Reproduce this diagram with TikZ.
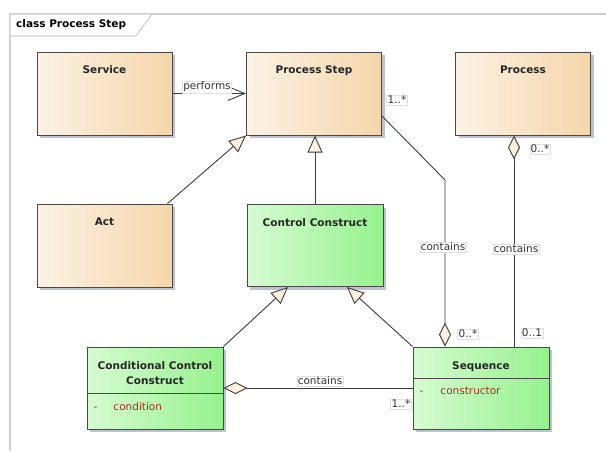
\documentclass[tikz,border=0pt]{standalone}
\usepackage{fontspec}
\setmainfont{DejaVu Sans}
\usetikzlibrary{arrows.meta,calc,positioning,shadows}
\definecolor{bordc}{RGB}{72,72,72}
\definecolor{linec}{RGB}{60,60,60}
\definecolor{frmc}{RGB}{208,208,208}
\definecolor{shadc}{RGB}{188,193,212}
\definecolor{orl}{RGB}{252,242,229}
\definecolor{orr}{RGB}{245,214,170}
\definecolor{grl}{RGB}{214,251,210}
\definecolor{grr}{RGB}{150,242,142}
\definecolor{creamc}{RGB}{252,240,222}
\definecolor{attrc}{RGB}{160,52,36}

\begin{document}
\begin{tikzpicture}[x=1pt,y=-1pt]
\tikzstyle{cls} = [rectangle, draw=bordc, line width=1pt, minimum width=135pt, minimum height=83pt, inner sep=0pt, drop shadow={shadow xshift=3pt, shadow yshift=-3pt, fill=shadc, opacity=1}]
\tikzstyle{orng} = [cls, left color=orl, right color=orr]
\tikzstyle{grn} = [cls, left color=grl, right color=grr, minimum width=136pt, minimum height=82pt]
\tikzstyle{ttl} = [anchor=base, inner sep=0pt, text=black!85, font=\bfseries\fontsize{10.5}{15}\selectfont]
\tikzstyle{attr} = [anchor=base west, inner sep=0pt, text=attrc, font=\fontsize{10.5}{13}\selectfont]
\tikzstyle{lbl} = [fill=white, draw=black!12, inner sep=1pt, text=black!80, font=\fontsize{10.5}{13}\selectfont]
\tikzstyle{sep} = [draw=bordc, line width=1pt]
\tikzstyle{edge} = [draw=linec, line width=0.9pt]
\tikzstyle{gen} = [edge, -{Triangle[fill=creamc, length=17pt, width=15pt]}]
\tikzstyle{aggs} = [edge, {Diamond[fill=creamc, length=24pt, width=12pt]}-]
\tikzstyle{agge} = [edge, -{Diamond[fill=creamc, length=24pt, width=12pt]}]
\tikzstyle{frm} = [draw=frmc, line width=1.2pt]
\useasboundingbox (0,0) rectangle (606,451);
% -----------------------------------
% Frame
\draw[frm] (10,451) -- (10,14) -- (606,14);
\draw[frm, fill=white] (10,14) -- (152,14) -- (136,36) -- (10,36) -- cycle;
\node[anchor=west, inner sep=0pt, font=\bfseries\fontsize{10.5}{13}\selectfont] (frmt) at (16,25) {class Process Step};

% -----------------------------------
% Upper classes
\node[orng] (svc) at (104.5,93.5) {};
\node[ttl] (svct) at ($(svc.north)+(0,22)$) {Service};
\node[orng] (step) at (314,93.5) {};
\node[ttl] (stept) at ($(step.north)+(0,22)$) {Process Step};
\node[orng] (proc) at (523,93.5) {};
\node[ttl] (proct) at ($(proc.north)+(0,22)$) {Process};
\node[orng] (act) at (104.5,245.5) {};
\node[ttl] (actt) at ($(act.north)+(0,22)$) {Act};
\node[grn] (cc) at (315,245.5) {};
\node[ttl] (cct) at ($(cc.north)+(0,22)$) {Control Construct};

% -----------------------------------
% Lower classes
\node[grn] (ccc) at (155,388) {};
\node[ttl, anchor=center, align=center] (ccct) at ($(ccc.north)+(0,26.5)$) {Conditional Control\\Construct};
\draw[sep] ($(ccc.north west)+(0,47)$) -- ($(ccc.north east)+(0,47)$);
\node[attr] (ccca) at ($(ccc.north west)+(7,64)$) {-\hspace{16pt}condition};
\node[grn] (seq) at (481,388) {};
\node[ttl] (seqt) at ($(seq.north)+(0,23)$) {Sequence};
\draw[sep] ($(seq.north west)+(0,32)$) -- ($(seq.north east)+(0,32)$);
\node[attr] (seqa) at ($(seq.north west)+(7,48)$) {-\hspace{17pt}constructor};

% -----------------------------------
% Connectors
\draw[edge, -{Straight Barb[length=17pt, width=14pt]}] (svc) -- (step);
\draw[gen] ($(act.north east)+(-5,0)$) -- (step.south west);
\draw[gen] (cc.north) -- (cc.north |- step.south);
\draw[gen] (ccc.north east) -- ($(cc.south)+(-27,0)$);
\draw[gen] (seq.north west) -- ($(cc.south)+(32,0)$);
\coordinate (sa) at ($(step.east)+(0,22.5)$);
\coordinate (bend) at (445,180);
\draw[agge] (sa) -- (bend) -- (bend |- seq.north);
\coordinate (pa) at ($(proc.south)+(-9,0)$);
\draw[aggs] (pa) -- (pa |- seq.north);
\draw[aggs] (ccc.east) -- (seq.west);

% -----------------------------------
% Labels
\node[lbl] (perf) at (207,87) {performs};
\node[lbl] (c1) at (443,247) {contains};
\node[lbl] (c2) at (516,249) {contains};
\node[lbl] (c3) at (320,381) {contains};
\node[lbl] (m1) at (397,100) {1..*};
\node[lbl] (m2) at (540,149) {0..*};
\node[lbl] (m3) at (468,334) {0..*};
\node[lbl] (m4) at (532,333) {0..1};
\node[lbl] (m5) at (401,404) {1..*};
% -----------------------------------
\end{tikzpicture}
\end{document}
